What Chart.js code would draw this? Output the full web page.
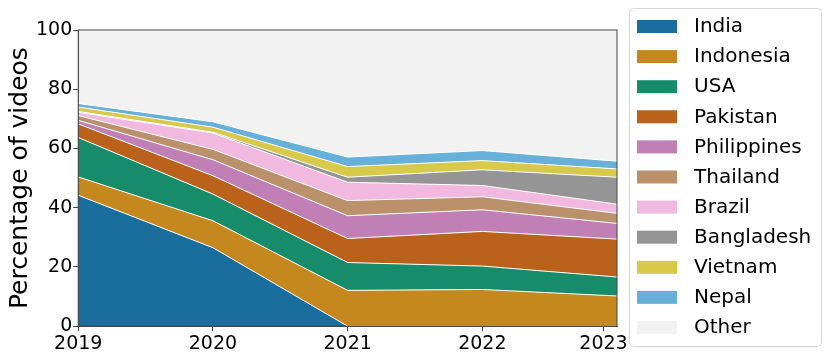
<!DOCTYPE html>
<html>
<head>
<meta charset="utf-8">
<script src="https://cdn.jsdelivr.net/npm/chart.js@4"></script>
<style>
  body { margin: 0; background: #fff; }
  #wrap { width: 831px; height: 361px; }
</style>
</head>
<body>
<div id="wrap"><canvas id="myChart" width="831" height="361"></canvas></div>
<script>
// years on the x axis
let years = [2019, 2020, 2021, 2022, 2023];
// tick positions / labels (last label sits a bit left of the right spine)
let tickPositions = [2019, 2020, 2021, 2022, 2022.9];
let tickLabels = ["2019", "2020", "2021", "2022", "2023"];

// share of videos per country (percent)
let india = [44.2, 26.5, 0, 0, 0];
let indonesia = [6.2, 9.1, 12.1, 12.4, 10.2];
let usa = [13.3, 9.0, 9.4, 7.9, 6.4];
let pakistan = [4.6, 6.2, 8.1, 11.7, 12.8];
let philippines = [1.2, 5.4, 7.7, 7.3, 5.3];
let thailand = [1.6, 3.5, 5.1, 4.4, 3.4];
let brazil = [1.1, 5.5, 6.2, 3.8, 3.1];
let bangladesh = [0.3, 0.3, 1.7, 5.3, 9.1];
let vietnam = [1.5, 1.7, 3.6, 3.1, 2.8];
let nepal = [1.2, 1.8, 3.2, 3.4, 2.6];
let other = [24.8, 31.0, 42.9, 40.7, 44.3];

let names = ["India", "Indonesia", "USA", "Pakistan", "Philippines", "Thailand",
  "Brazil", "Bangladesh", "Vietnam", "Nepal", "Other"];
let series = [india, indonesia, usa, pakistan, philippines, thailand,
  brazil, bangladesh, vietnam, nepal, other];
let colors = ["#1a6e9e", "#c4881f", "#168c6a", "#ba611c", "#c180b5", "#bb916c",
  "#f1b8e0", "#959595", "#d7ca4a", "#66b0d9", "#f2f2f2"];

const datasets = series.map((vals, i) => ({
  label: names[i],
  data: vals.map((v, j) => ({ x: years[j], y: v })),
  backgroundColor: colors[i],
  borderColor: i == names.length - 1 ? "rgba(0,0,0,0)" : "#ffffff",
  borderWidth: i == names.length - 1 ? 0 : 1,
  fill: i == 0 ? "origin" : "-1",
  pointRadius: 0,
  tension: 0,
}));

const font = "DejaVu Sans";

// frame around plot + custom legend box
const extras = {
  id: "extras",
  afterDatasetsDraw(chart) {
    const { ctx, chartArea } = chart;
    ctx.save();
    ctx.strokeStyle = "#444";
    ctx.lineWidth = 1;
    ctx.strokeRect(chartArea.left, chartArea.top,
      chartArea.right - chartArea.left, chartArea.bottom - chartArea.top);
    ctx.restore();
  },
  afterDraw(chart) {
    const ctx = chart.ctx;
    ctx.save();
    ctx.fillStyle = "#fff";
    ctx.strokeStyle = "#d6d6d6";
    ctx.lineWidth = 1;
    ctx.beginPath();
    ctx.roundRect(629.5, 8.5, 192, 338, 4);
    ctx.fill();
    ctx.stroke();
    ctx.font = "20px '" + font + "'";
    ctx.textBaseline = "middle";
    names.forEach((n, i) => {
      let cy = 26 + i * 30.1;
      ctx.fillStyle = colors[i];
      ctx.fillRect(637, cy - 6, 40, 13);
      ctx.fillStyle = "#000";
      ctx.fillText(n, 694, cy + 1);
    });
    ctx.restore();
  },
};

let ctx = document.getElementById("myChart");
let myChart = new Chart(ctx, {
  type: "line",
  data: { datasets: datasets },
  options: {
    responsive: false,
    animation: false,
    layout: { padding: { left: 5, right: 214, top: 30, bottom: 5 } },
    plugins: { legend: { display: false }, tooltip: { enabled: false } },
    scales: {
      x: {
        type: "linear",
        min: 2019,
        max: 2023,
        afterBuildTicks: (axis) => {
          axis.ticks = tickPositions.map((v) => ({ value: v }));
        },
        ticks: {
          font: { family: font, size: 19 },
          color: "#000",
          padding: 1,
          maxRotation: 0,
          autoSkip: false,
          callback: (v) => tickLabels[tickPositions.indexOf(v)],
        },
        grid: { drawOnChartArea: false, drawTicks: true, tickLength: 5, color: "#444" },
        border: { color: "#444", width: 1 },
      },
      y: {
        stacked: true,
        min: 0,
        max: 100,
        ticks: {
          stepSize: 20,
          font: { family: font, size: 19 },
          color: "#000",
          padding: 1,
        },
        grid: { drawOnChartArea: false, drawTicks: true, tickLength: 5, color: "#444" },
        border: { color: "#444", width: 1 },
        title: {
          display: true,
          text: "Percentage of videos",
          font: { family: font, size: 25 },
          color: "#000",
          padding: { top: 0, bottom: 0 },
        },
      },
    },
  },
  plugins: [extras],
});
</script>
</body>
</html>
